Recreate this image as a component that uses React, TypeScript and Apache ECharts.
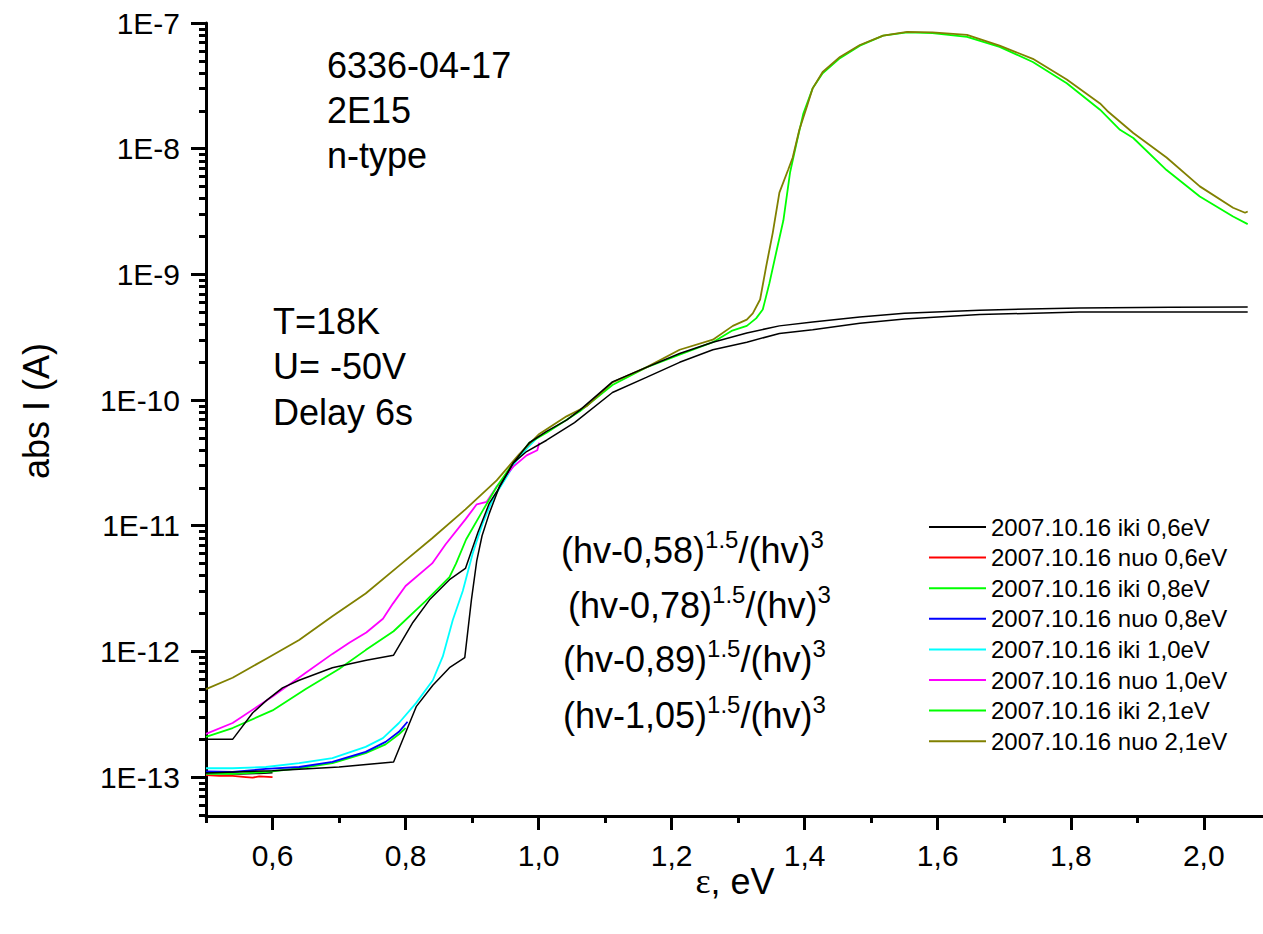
import React, { useEffect, useRef } from "react";
import * as echarts from "echarts";

const FONT = "'Liberation Sans', Arial, Helvetica, sans-serif";
const SERIF = "'Liberation Serif', 'Times New Roman', serif";

// axis ranges (y values are log10 of the current in A)
const X_MIN = 0.5;
const X_MAX = 2.089;
const Y_MIN = -13.31;
const Y_MAX = -7;

const xMajorTicks = [0.6, 0.8, 1.0, 1.2, 1.4, 1.6, 1.8, 2.0];
const xMinorTicks = [0.5, 0.7, 0.9, 1.1, 1.3, 1.5, 1.7, 1.9];
const yDecades = [-13, -12, -11, -10, -9, -8, -7];
const yMinorTicks: number[] = [];
for (let n = -14; n <= -8; n++) {
  for (let k = 2; k <= 9; k++) {
    const v = n + Math.log10(k);
    if (v >= Y_MIN && v <= Y_MAX) yMinorTicks.push(v);
  }
}

const legendNames = [
  "2007.10.16 iki 0,6eV",
  "2007.10.16 nuo 0,6eV",
  "2007.10.16 iki 0,8eV",
  "2007.10.16 nuo 0,8eV",
  "2007.10.16 iki 1,0eV",
  "2007.10.16 nuo 1,0eV",
  "2007.10.16 iki 2,1eV",
  "2007.10.16 nuo 2,1eV",
];
const seriesColors = ["#000000", "#ff0000", "#00ff00", "#0000ff", "#00ffff", "#ff00ff", "#00ff00", "#808000"];

// [photon energy eV, log10(abs I / A)]
const iki06 = [[0.5, -12.97], [0.52, -12.97], [0.55, -12.975], [0.58, -12.97], [0.6, -12.965]];
const nuo06 = [[0.5, -12.985], [0.52, -12.99], [0.54, -12.99], [0.56, -13.0], [0.57, -13.005], [0.58, -12.995], [0.6, -13.0]];
const iki08 = [[0.5, -12.975], [0.54, -12.975], [0.59, -12.96], [0.64, -12.93], [0.69, -12.89], [0.74, -12.81], [0.77, -12.74], [0.79, -12.66], [0.8, -12.61]];
const nuo08 = [[0.5, -12.955], [0.54, -12.96], [0.59, -12.935], [0.64, -12.92], [0.69, -12.88], [0.74, -12.8], [0.77, -12.72], [0.79, -12.64], [0.803, -12.56]];
const iki10 = [
  [0.5, -12.93], [0.54, -12.93], [0.59, -12.92], [0.64, -12.89], [0.69, -12.85], [0.74, -12.76], [0.766, -12.69],
  [0.79, -12.57], [0.816, -12.41], [0.841, -12.23], [0.856, -12.04], [0.871, -11.75], [0.886, -11.52], [0.901, -11.22],
  [0.916, -10.98], [0.931, -10.79], [0.952, -10.61], [0.967, -10.48], [0.985, -10.37], [1.0, -10.29],
];
const nuo10 = [
  [0.5, -12.656], [0.54, -12.57], [0.6, -12.36], [0.65, -12.17], [0.69, -12.02], [0.716, -11.93], [0.741, -11.85],
  [0.766, -11.74], [0.781, -11.62], [0.8, -11.48], [0.84, -11.3], [0.86, -11.15], [0.89, -10.95], [0.907, -10.83],
  [0.922, -10.81], [0.937, -10.69], [0.962, -10.53], [0.982, -10.44], [0.998, -10.4], [1.001, -10.34],
];
const iki21 = [
  [0.5, -12.68], [0.54, -12.61], [0.6, -12.47], [0.65, -12.3], [0.7, -12.14], [0.74, -11.99], [0.782, -11.84],
  [0.83, -11.6], [0.866, -11.41], [0.876, -11.3], [0.891, -11.11], [0.916, -10.88], [0.937, -10.69], [0.962, -10.5],
  [0.986, -10.34], [1.012, -10.26], [1.062, -10.09], [1.111, -9.88], [1.162, -9.74], [1.212, -9.64], [1.262, -9.54],
  [1.29, -9.45], [1.313, -9.41], [1.327, -9.35], [1.337, -9.28], [1.347, -9.07], [1.357, -8.83], [1.368, -8.57],
  [1.378, -8.19], [1.388, -7.95], [1.398, -7.72], [1.412, -7.52], [1.427, -7.4], [1.453, -7.28], [1.483, -7.18],
  [1.518, -7.1], [1.554, -7.075], [1.592, -7.08], [1.644, -7.11], [1.693, -7.19], [1.743, -7.31], [1.794, -7.48],
  [1.844, -7.69], [1.874, -7.85], [1.894, -7.915], [1.944, -8.17], [1.994, -8.38], [2.044, -8.54], [2.066, -8.6],
];
const nuo21 = [
  [0.5, -12.3], [0.54, -12.21], [0.59, -12.06], [0.64, -11.91], [0.69, -11.72], [0.74, -11.54], [0.79, -11.32],
  [0.84, -11.1], [0.89, -10.87], [0.937, -10.64], [0.971, -10.43], [1.001, -10.27], [1.042, -10.13], [1.072, -10.05],
  [1.111, -9.86], [1.162, -9.74], [1.212, -9.6], [1.262, -9.52], [1.292, -9.41], [1.313, -9.36], [1.322, -9.31],
  [1.333, -9.2], [1.342, -8.94], [1.352, -8.67], [1.362, -8.35], [1.375, -8.17], [1.382, -8.07], [1.392, -7.85],
  [1.403, -7.67], [1.412, -7.52], [1.427, -7.39], [1.453, -7.27], [1.483, -7.175], [1.518, -7.1], [1.554, -7.07],
  [1.592, -7.075], [1.644, -7.095], [1.693, -7.18], [1.743, -7.285], [1.794, -7.45], [1.844, -7.64], [1.855, -7.7],
  [1.894, -7.875], [1.944, -8.07], [1.994, -8.3], [2.044, -8.47], [2.062, -8.51], [2.066, -8.5],
];
const fitUpper = [
  [0.5, -12.7], [0.54, -12.7], [0.57, -12.49], [0.591, -12.39], [0.615, -12.29], [0.64, -12.23], [0.69, -12.13],
  [0.741, -12.07], [0.782, -12.03], [0.811, -11.77], [0.836, -11.59], [0.866, -11.43], [0.89, -11.34], [0.909, -11.05],
  [0.926, -10.82], [0.937, -10.73], [0.962, -10.5], [0.986, -10.34], [1.012, -10.25], [1.042, -10.16], [1.062, -10.08],
  [1.111, -9.856], [1.162, -9.74], [1.212, -9.63], [1.262, -9.54], [1.313, -9.466], [1.362, -9.41], [1.412, -9.38],
  [1.483, -9.34], [1.55, -9.31], [1.663, -9.285], [1.813, -9.267], [1.95, -9.262], [2.066, -9.26],
];
const fitLower = [
  [0.5, -12.967], [0.6, -12.95], [0.7, -12.92], [0.782, -12.88], [0.796, -12.7], [0.816, -12.44], [0.841, -12.27],
  [0.866, -12.13], [0.889, -12.05], [0.899, -11.59], [0.907, -11.28], [0.915, -11.08], [0.926, -10.9], [0.941, -10.69],
  [0.962, -10.5], [0.982, -10.41], [1.012, -10.32], [1.054, -10.18], [1.111, -9.94], [1.162, -9.82], [1.212, -9.7],
  [1.262, -9.6], [1.313, -9.54], [1.362, -9.47], [1.412, -9.44], [1.483, -9.39], [1.55, -9.355], [1.663, -9.32],
  [1.813, -9.3], [1.95, -9.3], [2.066, -9.3],
];

const dataSeries = [iki06, nuo06, iki08, nuo08, iki10, nuo10, iki21, nuo21];
const fitSeries = [fitUpper, fitLower];

const annotations = [
  { text: "6336-04-17", x: 327, y: 65.5 },
  { text: "2E15", x: 327, y: 110.5 },
  { text: "n-type", x: 327, y: 155.5 },
  { text: "T=18K", x: 273, y: 321 },
  { text: "U= -50V", x: 273, y: 366 },
  { text: "Delay 6s", x: 273, y: 412 },
];
const formulas = [
  { gap: "0,58", x: 561, y: 550 },
  { gap: "0,78", x: 568, y: 605 },
  { gap: "0,89", x: 563, y: 659 },
  { gap: "1,05", x: 563, y: 715 },
];

export default function App() {
  const ref = useRef<HTMLDivElement>(null);
  useEffect(() => {
    if (!ref.current) return;
    const chart = echarts.init(ref.current, undefined, { renderer: "svg" });
    const axisLineStyle = { color: "#000", width: 3 };
    const series: any[] = [];
    dataSeries.forEach((d, i) => {
      series.push({
        name: legendNames[i],
        type: "line",
        data: d,
        showSymbol: false,
        symbol: "none",
        color: seriesColors[i],
        lineStyle: { color: seriesColors[i], width: 1.8 },
        silent: true,
      });
    });
    fitSeries.forEach((d, i) => {
      series.push({
        name: "fit" + i,
        type: "line",
        data: d,
        showSymbol: false,
        symbol: "none",
        color: "#000",
        lineStyle: { color: "#000", width: 1.5 },
        silent: true,
      });
    });

    const graphic: any[] = [];
    annotations.forEach((a) => {
      graphic.push({
        type: "text",
        x: a.x,
        y: a.y,
        silent: true,
        style: { text: a.text, fontSize: 36, fontFamily: FONT, fill: "#000", align: "left", verticalAlign: "middle" },
      });
    });
    formulas.forEach((f) => {
      graphic.push({
        type: "text",
        x: f.x,
        y: f.y,
        silent: true,
        style: {
          text: `{a|(hv-${f.gap})}{s|1.5}{a|/(hv)}{s|3}`,
          align: "left",
          verticalAlign: "middle",
          fill: "#000",
          rich: {
            a: { fontSize: 36, fontFamily: FONT, lineHeight: 46, fill: "#000" },
            s: { fontSize: 24, fontFamily: FONT, lineHeight: 24, fill: "#000", verticalAlign: "top" },
          },
        },
      });
    });
    graphic.push({
      type: "text",
      x: 36,
      y: 411,
      rotation: Math.PI / 2,
      silent: true,
      style: { text: "abs I (A)", fontSize: 36, fontFamily: FONT, fill: "#000", align: "center", verticalAlign: "middle" },
    });
    graphic.push({
      type: "text",
      x: 735,
      y: 881,
      silent: true,
      style: {
        text: "{e|ε}{r|, eV}",
        align: "center",
        verticalAlign: "middle",
        fill: "#000",
        rich: {
          e: { fontSize: 36, fontFamily: SERIF, fill: "#000", lineHeight: 40 },
          r: { fontSize: 36, fontFamily: FONT, fill: "#000", lineHeight: 40 },
        },
      },
    });

    chart.setOption({
      animation: false,
      backgroundColor: "#fff",
      textStyle: { fontFamily: FONT },
      grid: { left: 206, top: 23, width: 1057, height: 793, containLabel: false },
      legend: {
        show: true,
        data: legendNames,
        orient: "vertical",
        left: 929,
        top: 515,
        padding: 0,
        itemWidth: 57,
        itemHeight: 2,
        itemGap: 6.6,
        icon: "rect",
        selectedMode: false,
        textStyle: { fontSize: 24, fontFamily: FONT, color: "#000", lineHeight: 24 },
      },
      xAxis: [
        {
          type: "value",
          min: X_MIN,
          max: X_MAX,
          position: "bottom",
          axisLine: { show: true, lineStyle: axisLineStyle },
          axisTick: { show: true, customValues: xMajorTicks, length: 14, lineStyle: { color: "#000", width: 3 } },
          axisLabel: {
            show: true,
            customValues: xMajorTicks,
            margin: 24,
            fontSize: 30,
            fontFamily: FONT,
            color: "#000",
            formatter: (v: number) => v.toFixed(1).replace(".", ","),
          },
          splitLine: { show: false },
        },
        {
          type: "value",
          min: X_MIN,
          max: X_MAX,
          position: "bottom",
          axisLine: { show: false },
          axisTick: { show: true, customValues: xMinorTicks, length: 7, lineStyle: { color: "#000", width: 3 } },
          axisLabel: { show: false },
          splitLine: { show: false },
        },
      ],
      yAxis: [
        {
          type: "value",
          min: Y_MIN,
          max: Y_MAX,
          position: "left",
          axisLine: { show: true, lineStyle: axisLineStyle },
          axisTick: { show: true, customValues: yDecades, length: 15, lineStyle: { color: "#000", width: 3 } },
          axisLabel: {
            show: true,
            customValues: yDecades,
            margin: 26,
            fontSize: 30,
            fontFamily: FONT,
            color: "#000",
            formatter: (v: number) => "1E" + Math.round(v),
          },
          splitLine: { show: false },
        },
        {
          type: "value",
          min: Y_MIN,
          max: Y_MAX,
          position: "left",
          axisLine: { show: false },
          axisTick: { show: true, customValues: yMinorTicks, length: 7, lineStyle: { color: "#000", width: 3 } },
          axisLabel: { show: false },
          splitLine: { show: false },
        },
      ],
      series,
      graphic,
    });
    return () => chart.dispose();
  }, []);
  return (
    <div
      ref={ref}
      style={{ position: "fixed", left: 0, top: 0, width: 1263, height: 934, background: "#fff" }}
    />
  );
}
